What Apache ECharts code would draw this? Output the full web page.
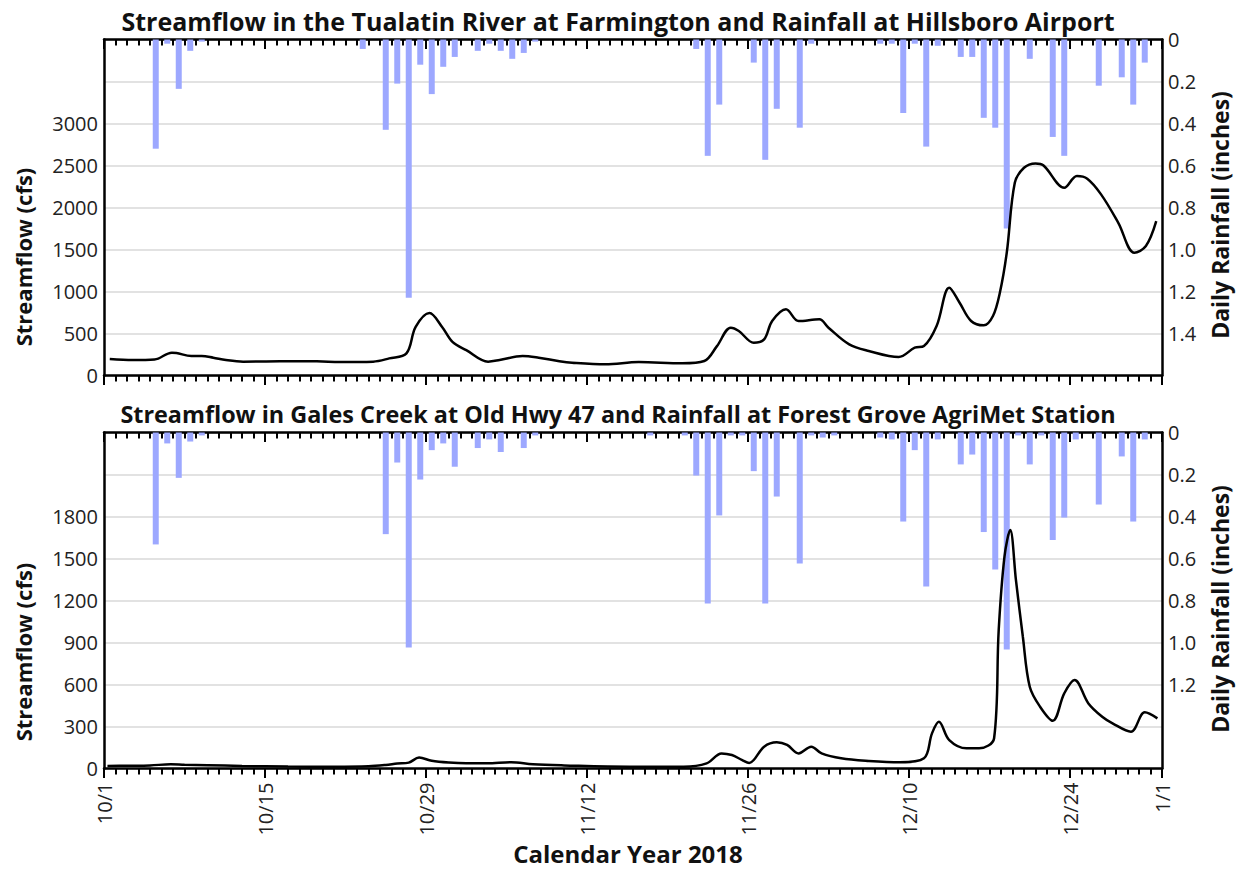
<!DOCTYPE html>
<html><head><meta charset="utf-8">
<script src="https://cdn.jsdelivr.net/npm/echarts@6/dist/echarts.min.js"></script>
<style>html,body{margin:0;padding:0;background:#fff}#c{width:1236px;height:869px}</style>
</head><body><div id="c"></div>
<script>
// ---- X axis (days since 10/1/2018) ----
const tickDays = [0, 14, 28, 42, 56, 70, 84, 92];
const tickLabels = ['10/1', '10/15', '10/29', '11/12', '11/26', '12/10', '12/24', '1/1'];
const allDays = Array.from({length: 93}, (_, i) => i);

// ---- Panel 1: Tualatin River at Farmington / Hillsboro Airport rainfall ----
const rainDays1 = [4,5,6,7,8,22,24,25,26,27,28,29,30,32,33,34,35,36,37,51,52,53,56,57,58,60,61,67,68,69,70,71,72,74,75,76,77,78,80,82,83,86,88,89,90];
const rain1 = [0.52,0.02,0.235,0.054,0.01,0.045,0.43,0.21,1.23,0.12,0.26,0.13,0.083,0.054,0.02,0.054,0.092,0.064,0.01,0.045,0.554,0.31,0.11,0.573,0.33,0.42,0.02,0.02,0.02,0.35,0.02,0.51,0.03,0.083,0.083,0.373,0.42,0.90,0.092,0.464,0.554,0.22,0.18,0.31,0.11];
const flowDays1 = [0.5,2.5,4.4,5.9,6.3,7.6,8.5,9.5,10.6,12.1,14.1,16.5,18.5,20.5,23.4,24.8,26.3,27.1,28.3,29.4,30.3,31.5,33.4,34.4,36.4,37.8,39.6,40.7,43.6,46.5,50.3,52.2,53.3,54.5,55.2,56.5,57.4,58.1,59.3,60.4,62.2,63.0,64.8,66.5,69.1,70.5,71.3,72.4,73.5,74.4,75.4,76.5,77.3,77.9,78.5,79.2,80.0,81.0,81.7,83.5,84.6,85.5,86.7,88.2,89.6,90.6,91.5];
const flow1 = [196,184,190,272,268,232,232,212,184,165,168,170,170,160,165,204,263,578,744,578,401,302,165,184,232,212,170,152,133,160,145,172,350,569,530,390,430,648,788,648,669,569,371,292,220,331,351,589,1045,866,649,597,708,985,1461,2294,2473,2525,2500,2235,2374,2342,2156,1818,1461,1541,1838];

// ---- Panel 2: Gales Creek at Old Hwy 47 / Forest Grove AgriMet rainfall ----
const rainDays2 = [4,5,6,7,8,24,25,26,27,28,29,30,32,33,34,36,37,47,50,51,52,53,54,55,56,57,58,60,61,62,63,67,68,69,70,71,72,74,75,76,77,78,79,80,81,82,83,84,86,88,89,90];
const rain2 = [0.533,0.052,0.216,0.043,0.014,0.484,0.143,1.024,0.224,0.084,0.052,0.163,0.074,0.033,0.093,0.074,0.014,0.014,0.014,0.205,0.814,0.395,0.014,0.014,0.184,0.814,0.305,0.624,0.014,0.024,0.014,0.024,0.033,0.424,0.084,0.733,0.033,0.152,0.105,0.474,0.652,1.033,0.014,0.152,0.014,0.512,0.405,0.033,0.343,0.114,0.424,0.033];
const flowDays2 = [0.3,2,4,5.8,7,9,12,16,20,23,24.5,25.5,26.5,27.4,28.5,30,31.5,33.3,35.4,37.3,40,45.7,50.4,52.4,53.7,54.6,55.5,56.1,57.4,58.5,59.4,60.4,61.5,62.4,64.1,66.5,69.2,71.3,72.0,72.6,73.5,75.0,76.1,77.4,77.8,78.3,78.8,79.3,79.9,80.5,81.4,82.5,83.5,84.4,85.6,86.8,87.7,89.3,90.5,91.6];
const flow2 = [18,20,22,30,27,24,18,14,13,16,25,35,42,78,55,42,37,37,45,30,22,13,13,37,108,96,60,40,156,187,168,108,156,108,73,54,44,73,251,334,203,144,144,216,989,1512,1703,1346,941,584,441,341,537,632,465,370,323,263,401,358];

// ---- Axis settings ----
const leftMax = [4000, 2400], leftInterval = [500, 300], leftLabelMax = [3000, 1800];
const rightLabelMax = [1.4, 1.2];
const titles = ['Streamflow in the Tualatin River at Farmington and Rainfall at Hillsboro Airport',
                'Streamflow in Gales Creek at Old Hwy 47 and Rainfall at Forest Grove AgriMet Station'];

const FONT = 'Open Sans';
const BAR = '#9da8ff';
const axisLineStyle = {color: '#000', width: 2.5};
const tickLineStyle = {color: '#000', width: 2};
const gridTops = [39.5, 432.5];

const grid = gridTops.map(t => ({left: 104, top: t, width: 1058, height: 336, outerBoundsMode: 'none', containLabel: false}));

const xAxis = [];
const yAxis = [];
const series = [];
for (let g = 0; g < 2; g++) {
  const base = {gridIndex: g, type: 'value', min: 0, max: 92, splitLine: {show: false}};
  xAxis.push(Object.assign({}, base, {position: 'bottom',
    axisLine: {show: true, onZero: false, lineStyle: axisLineStyle},
    axisTick: {show: true, customValues: allDays, length: 6, lineStyle: tickLineStyle},
    axisLabel: {show: false}}));
  xAxis.push(Object.assign({}, base, {position: 'bottom',
    axisLine: {show: false, onZero: false},
    axisTick: {show: true, customValues: tickDays, length: 9.5, lineStyle: tickLineStyle},
    axisLabel: {show: g === 1, customValues: tickDays, rotate: 90, margin: 14, fontSize: 20,
      color: '#222', fontFamily: FONT,
      formatter: v => { const k = tickDays.indexOf(Math.round(v)); return k >= 0 ? tickLabels[k] : ''; }}}));
  xAxis.push(Object.assign({}, base, {position: 'top',
    axisLine: {show: true, onZero: false, lineStyle: axisLineStyle},
    axisTick: {show: true, inside: true, customValues: allDays, length: 6, lineStyle: tickLineStyle},
    axisLabel: {show: false}}));
  xAxis.push(Object.assign({}, base, {position: 'top',
    axisLine: {show: false, onZero: false},
    axisTick: {show: true, inside: true, customValues: tickDays, length: 9.5, lineStyle: tickLineStyle},
    axisLabel: {show: false}}));

  yAxis.push({gridIndex: g, type: 'value', position: 'left', min: 0, max: leftMax[g], interval: leftInterval[g],
    axisLine: {show: true, onZero: false, lineStyle: axisLineStyle}, axisTick: {show: false},
    axisLabel: {margin: 6, fontSize: 20, color: '#222', fontFamily: FONT,
      formatter: v => v > leftLabelMax[g] ? '' : String(v)},
    splitLine: {show: true, lineStyle: {color: '#d9d9d9', width: 1.5}}});
  yAxis.push({gridIndex: g, type: 'value', position: 'right', inverse: true, min: 0, max: 1.6, interval: 0.2,
    axisLine: {show: true, onZero: false, lineStyle: axisLineStyle}, axisTick: {show: false},
    axisLabel: {margin: 6, fontSize: 20, color: '#222', fontFamily: FONT,
      formatter: v => v > rightLabelMax[g] + 1e-6 ? '' : (v === 0 ? '0' : v.toFixed(1))},
    splitLine: {show: false}});

  const rd = g === 0 ? rainDays1 : rainDays2;
  const rv = g === 0 ? rain1 : rain2;
  const fd = g === 0 ? flowDays1 : flowDays2;
  const fv = g === 0 ? flow1 : flow2;
  series.push({type: 'bar', xAxisIndex: g * 4, yAxisIndex: g * 2 + 1, barWidth: 6,
    data: rd.map((d, i) => [d + 0.5, rv[i]]), itemStyle: {color: BAR}, z: 2, silent: true});
  series.push({type: 'line', xAxisIndex: g * 4, yAxisIndex: g * 2, smooth: 0.35, showSymbol: false,
    data: fd.map((d, i) => [d, fv[i]]), lineStyle: {color: '#000', width: 2.5}, z: 3, silent: true});
}

const boldText = (txt, x, y, size, rot) => ({type: 'text', x: x, y: y, rotation: rot || 0,
  style: {text: txt, fill: '#111', font: 'bold ' + size + 'px "Open Sans"', textAlign: 'center', textVerticalAlign: 'middle'}});

const graphic = [
  boldText(titles[0], 618, 21, 25),
  boldText(titles[1], 618, 414, 23.4),
  boldText('Streamflow (cfs)', 23, 257, 22, Math.PI / 2),
  boldText('Streamflow (cfs)', 23, 652, 22, Math.PI / 2),
  boldText('Daily Rainfall (inches)', 1220, 215, 23, Math.PI / 2),
  boldText('Daily Rainfall (inches)', 1220, 609, 23, Math.PI / 2),
  boldText('Calendar Year 2018', 628, 853, 24)
];

const chart = echarts.init(document.getElementById('c'), null, {renderer: 'svg'});
chart.setOption({animation: false, backgroundColor: '#fff', grid, xAxis, yAxis, series, graphic});
</script>
</body></html>
